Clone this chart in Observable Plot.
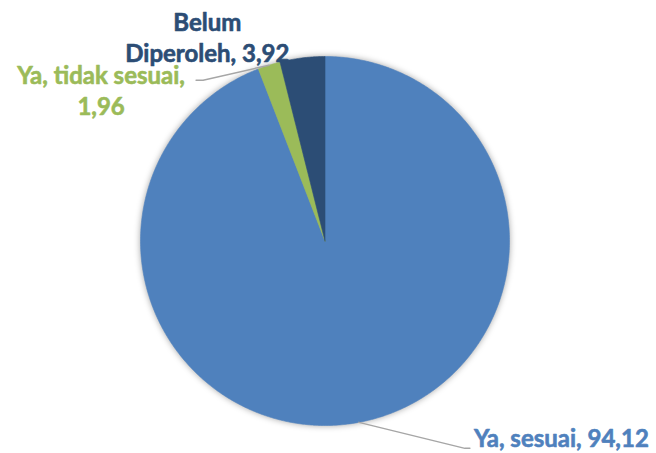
<!DOCTYPE html>
<html>
<head>
<meta charset="utf-8">
<script src="https://cdn.jsdelivr.net/npm/d3@7"></script>
<script src="https://cdn.jsdelivr.net/npm/@observablehq/plot@0.6"></script>
<style>
  html, body { margin: 0; padding: 0; background: #ffffff; }
  #chart svg { display: block; }
</style>
</head>
<body>
<div id="chart"></div>
<script>
// ---- data ----
const categories = ["Ya, sesuai", "Ya, tidak sesuai", "Belum Diperoleh"];
const values = [94.12, 1.96, 3.92];
const valueLabels = ["94,12", "1,96", "3,92"];
const colors = ["#4F81BD", "#9BBB59", "#2C4D75"];

// ---- layout ----
const W = 656, H = 453;
const mL = 140, mR = 147, mT = 56, mB = 28;
const R = (W - mL - mR) / 2; // pixel radius
const font = "Lato, 'Open Sans', sans-serif";

const data = categories.map((c, i) => ({category: c, value: values[i], label: valueLabels[i]}));
const arcs = d3.pie().sort(null).value(d => d.value)(data);

// slice polygons in unit-circle coordinates (angle 0 at 12 o'clock, clockwise)
const slicePts = [];
arcs.forEach(s => {
  const key = s.data.category;
  slicePts.push({key, x: 0, y: 0});
  const n = Math.max(4, Math.ceil((s.endAngle - s.startAngle) / (Math.PI / 360)));
  for (let i = 0; i <= n; i++) {
    const a = s.startAngle + (s.endAngle - s.startAngle) * i / n;
    slicePts.push({key, x: Math.sin(a), y: Math.cos(a)});
  }
  slicePts.push({key, x: 0, y: 0});
});

const mid = s => (s.startAngle + s.endAngle) / 2;
const edge = s => ({x: Math.sin(mid(s)), y: Math.cos(mid(s))});
const off = (p, dxPx, dyPx) => ({x: p.x + dxPx / R, y: p.y - dyPx / R});

// label layout per slice (pixel offsets)
const layout = [
  {text: d => `${d.category}, ${d.label}`, leader: [106, 26, 5], anchor: "start", tdx: 4, tdy: -11, lineAnchor: "middle"},
  {text: d => `${d.category},\n${d.label}`, leader: [-66, 15, -7], anchor: "middle", tdx: -95, tdy: -18, lineAnchor: "top"},
  {text: d => `Belum\nDiperoleh, ${d.label}`, leader: null, anchor: "middle", tdx: -95, tdy: -49, lineAnchor: "top"}
];

const leaderPts = [];
const labelData = [];
arcs.forEach((s, i) => {
  const L = layout[i];
  const e = edge(s);
  let endP = e;
  if (L.leader) {
    const elbow = off(e, L.leader[0], L.leader[1]);
    endP = off(elbow, L.leader[2], 0);
    leaderPts.push({key: s.data.category, ...e}, {key: s.data.category, ...elbow}, {key: s.data.category, ...endP});
  }
  labelData.push({key: s.data.category, x: endP.x, y: endP.y, text: L.text(s.data), L});
});

const marks = [
  Plot.line(slicePts, {
    x: "x", y: "y", z: "key", fill: "key", stroke: "key", strokeWidth: 0.6, curve: "linear",
    imageFilter: "drop-shadow(0px 0px 3px rgba(0,0,0,0.35))"
  }),
  Plot.line(leaderPts, {x: "x", y: "y", z: "key", stroke: "#A6A6A6", strokeWidth: 1.5, curve: "linear"})
];
labelData.forEach(d => {
  const c = colors[categories.indexOf(d.key)];
  marks.push(Plot.text([d], {
    x: "x", y: "y", text: "text",
    fill: c, stroke: c, strokeWidth: 0.6,
    textAnchor: d.L.anchor, lineAnchor: d.L.lineAnchor,
    dx: d.L.tdx, dy: d.L.tdy,
    fontSize: 24, fontWeight: "bold", fontFamily: font, lineHeight: 1.29
  }));
});

const chart = Plot.plot({
  width: W, height: H,
  marginLeft: mL, marginRight: mR, marginTop: mT, marginBottom: mB,
  x: {domain: [-1, 1], axis: null},
  y: {domain: [-1, 1], axis: null},
  color: {domain: categories, range: colors},
  style: {background: "#ffffff", overflow: "visible"},
  marks
});
document.getElementById("chart").appendChild(chart);
</script>
</body>
</html>
